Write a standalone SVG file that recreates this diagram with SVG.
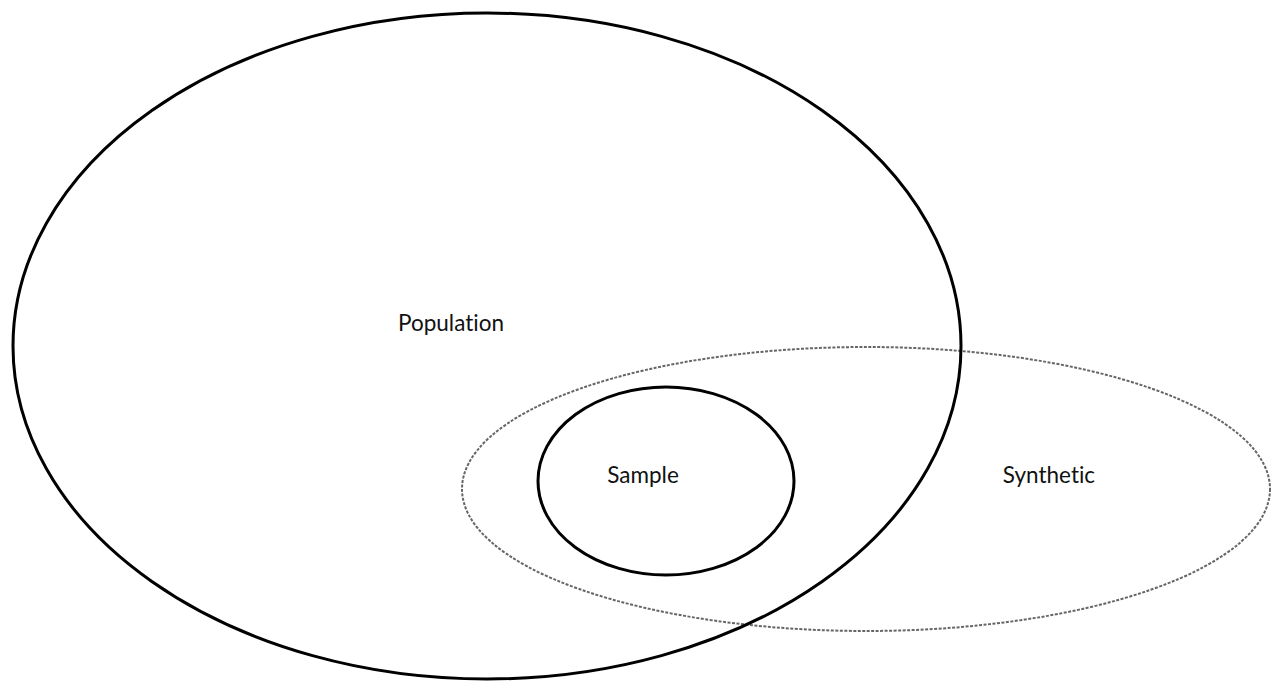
<svg xmlns="http://www.w3.org/2000/svg" width="1277" height="682" viewBox="0 0 1277 682">
<style>
.solid{fill:none;stroke:#000;stroke-width:3}
.dotted{fill:none;stroke:#666;stroke-width:2;stroke-dasharray:3 1.5}
.lbl{font-family:Lato,"Open Sans","Liberation Sans",sans-serif;font-size:22.5px;fill:#111;text-anchor:middle;font-variant-ligatures:none}
</style>
<rect width="1277" height="682" fill="#fff"/>
<g id="synthetic">
<ellipse class="dotted" cx="866" cy="489" rx="404" ry="142"/>
<text class="lbl" x="1049" y="483">Synthetic</text>
</g>
<g id="population">
<ellipse class="solid" cx="487" cy="346" rx="474" ry="333"/>
<text class="lbl" x="451" y="331">Population</text>
</g>
<g id="sample">
<ellipse class="solid" cx="666" cy="481" rx="128" ry="94"/>
<text class="lbl" x="643" y="483">Sample</text>
</g>
<g id="connectors"></g>
</svg>
